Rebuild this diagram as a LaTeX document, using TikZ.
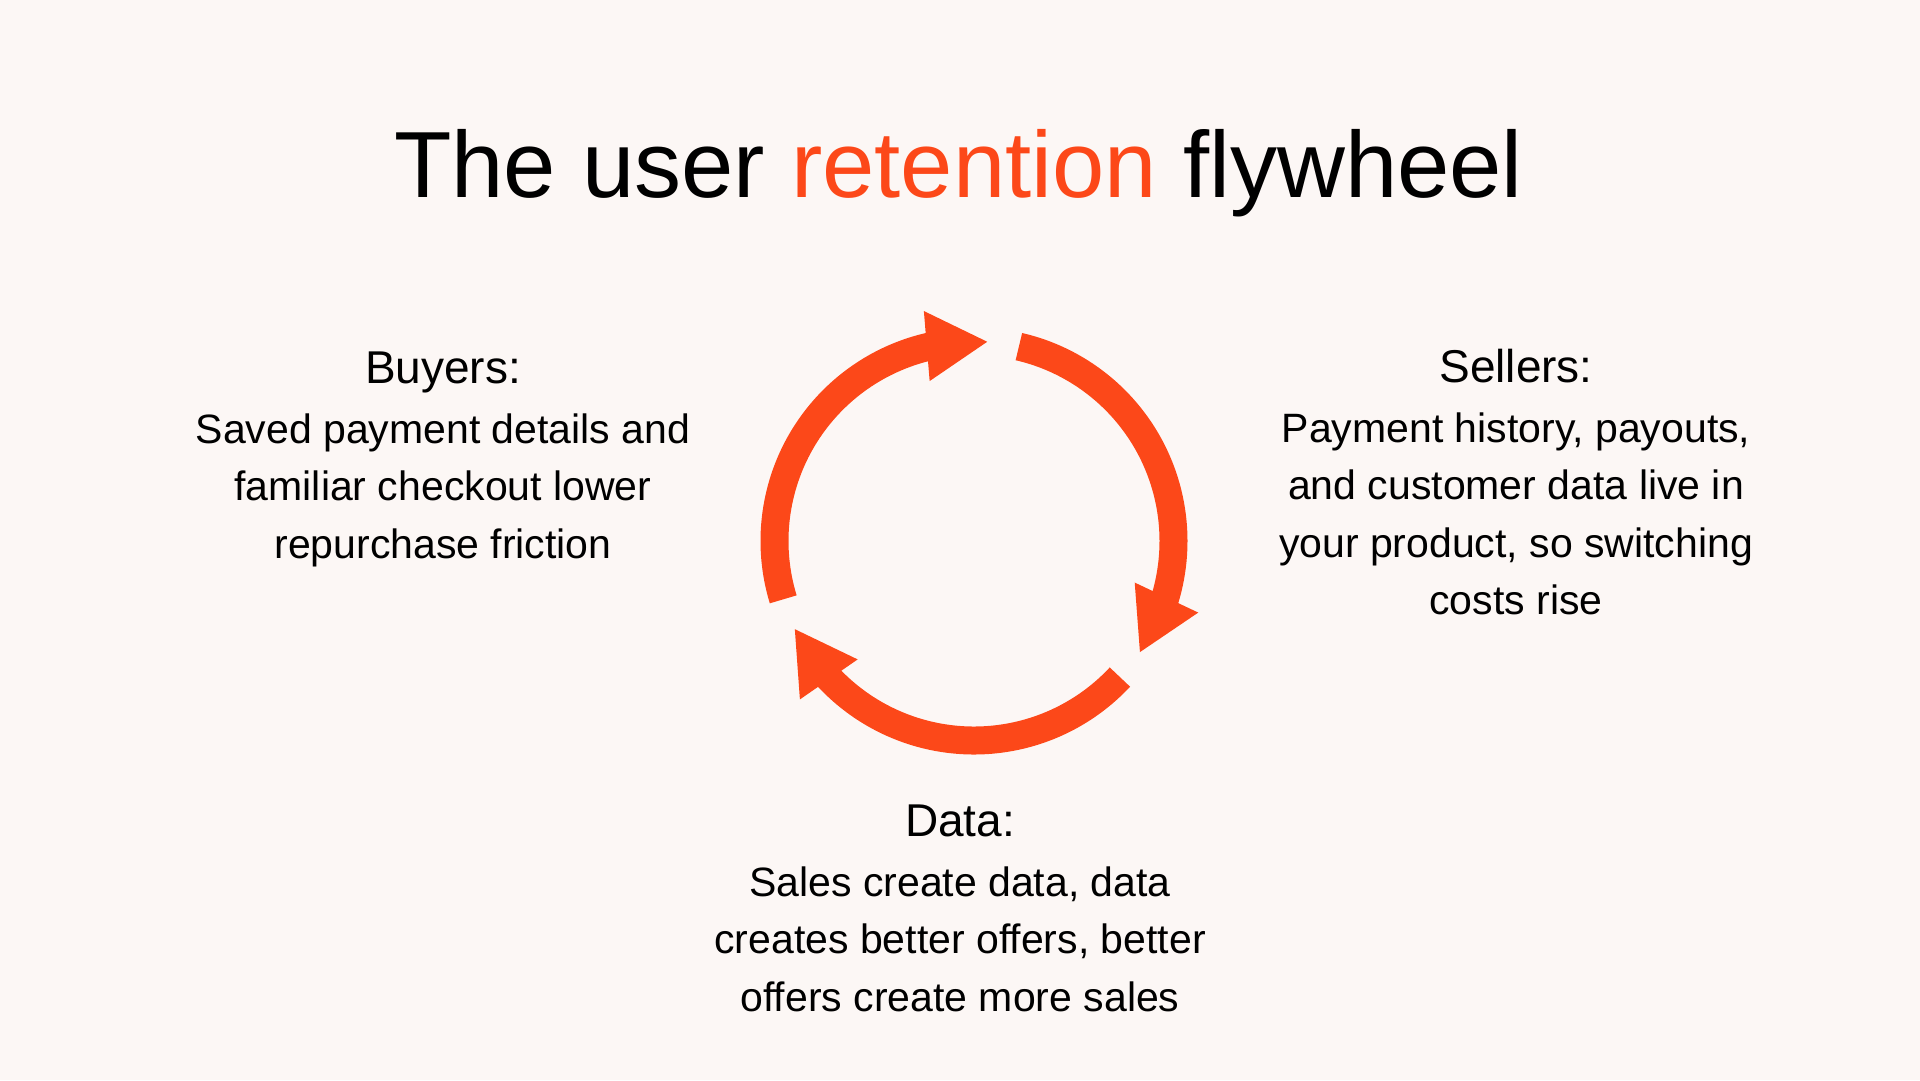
\documentclass[tikz,border=0pt]{standalone}
\usepackage{fontspec}
\setmainfont{Liberation Sans}
\usetikzlibrary{calc}
\definecolor{bgcol}{HTML}{FCF7F5}
\definecolor{flyorange}{HTML}{FC4819}
\tikzset{
  titletext/.style={anchor=base, inner sep=0pt, font=\fontsize{94}{100}\selectfont},
  headtext/.style={anchor=base, inner sep=0pt, font=\fontsize{46}{50}\selectfont},
  bodytext/.style={anchor=base, inner sep=0pt, align=center, font=\fontsize{41}{57.5}\selectfont},
  flyarc/.style={draw=flyorange, line width=28pt, line cap=butt},
  flyhead/.style={fill=flyorange, draw=none}
}
\begin{document}
\begin{tikzpicture}[x=1pt,y=1pt]
\useasboundingbox (0,0) rectangle (1920,-1080);
\fill[bgcol] (0,0) rectangle (1920,-1080);

% title
\node[titletext] (title) at (958.5,-197) {The user \textcolor{flyorange}{retention} flywheel};

% flywheel
\coordinate (C) at (974,-541);
\begin{scope}[shift={(974,-541)}]
\foreach \k in {0,1,2}{
  \pgfmathsetmacro{\a}{-120*\k}
  \draw[flyarc] ({197+\a}:199.5) arc[start angle={197+\a}, end angle={101+\a}, radius=199.5];
  \fill[flyhead] ({102.3+\a}:235.4) -- ({86.2+\a}:199.7) -- ({105.5+\a}:166) -- cycle;
}
\end{scope}

% Buyers (body node: base anchor = baseline of its last line)
\node[headtext] (buyersh) at (443,-383) {Buyers:};
\node[bodytext] (buyersb) at (443,-558) {Saved payment details and\\familiar checkout lower\\repurchase friction};

% Sellers
\node[headtext] (sellersh) at (1516,-382) {Sellers:};
\node[bodytext] (sellersb) at (1516,-614.5) {Payment history, payouts,\\and customer data live in\\your product, so switching\\costs rise};

% Data
\node[headtext] (datah) at (960,-836) {Data:};
\node[bodytext] (datab) at (960,-1011) {Sales create data, data\\creates better offers, better\\offers create more sales};
\end{tikzpicture}
\end{document}
